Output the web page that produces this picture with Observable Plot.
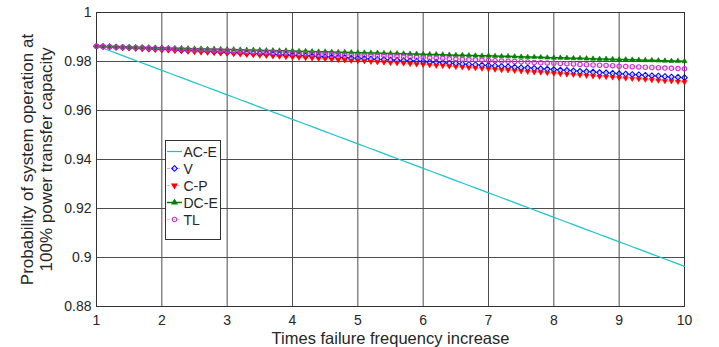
<!DOCTYPE html>
<html><head><meta charset="utf-8">
<script src="https://cdn.jsdelivr.net/npm/d3@7"></script>
<script src="https://cdn.jsdelivr.net/npm/@observablehq/plot@0.6"></script>
<style>
html,body{margin:0;padding:0;background:#fff;}
#chart{position:relative;width:719px;height:347px;}
</style></head><body><div id="chart"></div>
<script>
const xValues = [1.0,1.1,1.2,1.3,1.4,1.5,1.6,1.7,1.8,1.9,
2.0,2.1,2.2,2.3,2.4,2.5,2.6,2.7,2.8,2.9,
3.0,3.1,3.2,3.3,3.4,3.5,3.6,3.7,3.8,3.9,
4.0,4.1,4.2,4.3,4.4,4.5,4.6,4.7,4.8,4.9,
5.0,5.1,5.2,5.3,5.4,5.5,5.6,5.7,5.8,5.9,
6.0,6.1,6.2,6.3,6.4,6.5,6.6,6.7,6.8,6.9,
7.0,7.1,7.2,7.3,7.4,7.5,7.6,7.7,7.8,7.9,
8.0,8.1,8.2,8.3,8.4,8.5,8.6,8.7,8.8,8.9,
9.0,9.1,9.2,9.3,9.4,9.5,9.6,9.7,9.8,9.9,10.0];

const seriesNames = ["AC-E","V","C-P","DC-E","TL"];

const acE = [0.9864,0.9854,0.9844,0.9834,0.9824,0.9814,0.9804,0.9794,0.9784,0.9774,
0.9764,0.9754,0.9744,0.9734,0.9724,0.9714,0.9704,0.9694,0.9684,0.9674,
0.9664,0.9654,0.9644,0.9634,0.9624,0.9614,0.9604,0.9594,0.9584,0.9574,
0.9564,0.9554,0.9544,0.9534,0.9524,0.9514,0.9504,0.9494,0.9484,0.9474,
0.9464,0.9454,0.9444,0.9434,0.9424,0.9414,0.9404,0.9394,0.9384,0.9374,
0.9364,0.9354,0.9344,0.9334,0.9324,0.9314,0.9304,0.9294,0.9284,0.9274,
0.9264,0.9254,0.9244,0.9234,0.9224,0.9214,0.9204,0.9194,0.9184,0.9174,
0.9164,0.9154,0.9144,0.9134,0.9124,0.9114,0.9104,0.9094,0.9084,0.9074,
0.9064,0.9054,0.9044,0.9034,0.9024,0.9014,0.9004,0.8994,0.8984,0.8974,0.8964];

const vSeries = [0.9862,0.9861,0.9860,0.9858,0.9857,0.9856,0.9855,0.9854,0.9852,0.9851,0.9850,
0.9849,0.9848,0.9846,0.9845,0.9844,0.9843,0.9842,0.9840,0.9839,0.9838,
0.9837,0.9836,0.9834,0.9833,0.9832,0.9831,0.9830,0.9828,0.9827,0.9826,
0.9825,0.9823,0.9822,0.9821,0.9819,0.9818,0.9817,0.9816,0.9814,0.9813,
0.9812,0.9810,0.9809,0.9808,0.9806,0.9805,0.9804,0.9803,0.9801,0.9800,
0.9798,0.9797,0.9795,0.9793,0.9792,0.9790,0.9788,0.9787,0.9785,0.9784,
0.9782,0.9780,0.9779,0.9777,0.9775,0.9774,0.9772,0.9770,0.9769,0.9767,
0.9765,0.9764,0.9762,0.9760,0.9759,0.9757,0.9755,0.9754,0.9752,0.9750,
0.9749,0.9747,0.9746,0.9744,0.9742,0.9741,0.9739,0.9737,0.9736,0.9734];

const cpSeries = [0.9862,0.9861,0.9859,0.9858,0.9856,0.9855,0.9853,0.9852,0.9850,0.9849,0.9847,
0.9846,0.9844,0.9843,0.9841,0.9840,0.9838,0.9837,0.9836,0.9834,0.9833,
0.9831,0.9830,0.9828,0.9827,0.9825,0.9824,0.9822,0.9821,0.9819,0.9818,
0.9817,0.9815,0.9814,0.9812,0.9811,0.9809,0.9807,0.9806,0.9804,0.9803,
0.9802,0.9800,0.9798,0.9797,0.9795,0.9794,0.9793,0.9791,0.9789,0.9788,
0.9786,0.9784,0.9783,0.9781,0.9779,0.9777,0.9775,0.9774,0.9772,0.9770,
0.9768,0.9766,0.9765,0.9763,0.9761,0.9759,0.9757,0.9756,0.9754,0.9752,
0.9750,0.9748,0.9747,0.9745,0.9743,0.9741,0.9739,0.9738,0.9736,0.9734,
0.9732,0.9730,0.9729,0.9727,0.9725,0.9723,0.9721,0.9720,0.9718,0.9716];

const dcE = [0.9862,0.9861,0.9861,0.9860,0.9859,0.9859,0.9858,0.9858,0.9857,0.9856,0.9856,
0.9855,0.9854,0.9854,0.9853,0.9852,0.9852,0.9851,0.9851,0.9850,0.9849,
0.9849,0.9848,0.9847,0.9847,0.9846,0.9845,0.9845,0.9844,0.9844,0.9843,
0.9842,0.9842,0.9841,0.9840,0.9840,0.9839,0.9838,0.9838,0.9837,0.9836,
0.9836,0.9835,0.9835,0.9834,0.9833,0.9833,0.9832,0.9831,0.9831,0.9830,
0.9829,0.9829,0.9828,0.9827,0.9826,0.9826,0.9825,0.9824,0.9823,0.9823,
0.9822,0.9821,0.9821,0.9820,0.9819,0.9818,0.9818,0.9817,0.9816,0.9815,
0.9815,0.9814,0.9813,0.9813,0.9812,0.9811,0.9810,0.9810,0.9809,0.9808,
0.9808,0.9807,0.9806,0.9805,0.9805,0.9804,0.9803,0.9802,0.9802,0.9801];

const tlSeries = [0.9862,0.9861,0.9860,0.9859,0.9858,0.9857,0.9857,0.9856,0.9855,0.9854,0.9853,
0.9852,0.9851,0.9850,0.9849,0.9848,0.9848,0.9847,0.9846,0.9845,0.9844,
0.9843,0.9842,0.9841,0.9840,0.9839,0.9839,0.9838,0.9837,0.9836,0.9835,
0.9834,0.9833,0.9832,0.9831,0.9830,0.9829,0.9828,0.9827,0.9826,0.9825,
0.9825,0.9824,0.9823,0.9822,0.9821,0.9820,0.9819,0.9818,0.9817,0.9816,
0.9815,0.9814,0.9813,0.9811,0.9810,0.9809,0.9808,0.9807,0.9806,0.9804,
0.9803,0.9802,0.9801,0.9800,0.9799,0.9798,0.9796,0.9795,0.9794,0.9793,
0.9792,0.9791,0.9790,0.9788,0.9787,0.9786,0.9785,0.9784,0.9783,0.9781,
0.9780,0.9779,0.9778,0.9777,0.9776,0.9775,0.9773,0.9772,0.9771,0.9770];

const xTicks = [1,2,3,4,5,6,7,8,9,10];
const yTicks = [0.88,0.9,0.92,0.94,0.96,0.98,1];
const xLabel = "Times failure frequency increase";
const yLabel = "Probability of system operation at\n100% power transfer capacity";

const colors = {"AC-E":"#1cc4c8","V":"#0000ff","C-P":"#ff0000","DC-E":"#008000","TL":"#cc33cc"};
const rows = vals => xValues.map((x,i)=>({x, y: vals[i]}));

const font = "'Liberation Sans', Arial, Helvetica, sans-serif";

const svg = Plot.plot({
  width: 719, height: 347,
  marginLeft: 96, marginRight: 35, marginTop: 12, marginBottom: 41,
  style: {fontFamily: font, fontSize: "14px", color: "#262626", background: "white", overflow: "visible"},
  x: {domain: [1, 10], ticks: xTicks, tickFormat: d => String(d), tickSize: 0, tickPadding: 9, label: null},
  y: {domain: [0.88, 1], ticks: yTicks, tickFormat: d => String(+d.toFixed(2)), tickSize: 0, tickPadding: 5, label: null},
  marks: [
    Plot.gridX(xTicks, {stroke: "#4d4d4d", strokeOpacity: 1}),
    Plot.gridY(yTicks, {stroke: "#4d4d4d", strokeOpacity: 1}),
    Plot.frame({stroke: "#333"}),
    Plot.line(rows(acE), {x: "x", y: "y", stroke: colors["AC-E"], strokeWidth: 1.2}),
    Plot.line(rows(vSeries), {x: "x", y: "y", stroke: colors["V"], strokeOpacity: 0.3, strokeDasharray: "3,2"}),
    Plot.dot(rows(vSeries), {x: "x", y: "y", symbol: "diamond2", r: 2.5, stroke: colors["V"], fill: "none", strokeWidth: 1.1}),
    Plot.line(rows(cpSeries), {x: "x", y: "y", stroke: colors["C-P"], strokeOpacity: 0.3, strokeDasharray: "3,2"}),
    Plot.dot(rows(cpSeries), {x: "x", y: "y", symbol: "triangle", r: 1.9, rotate: 180, fill: colors["C-P"], stroke: colors["C-P"], strokeWidth: 0.6}),
    Plot.line(rows(dcE), {x: "x", y: "y", stroke: colors["DC-E"], strokeWidth: 1.5}),
    Plot.dot(rows(dcE), {x: "x", y: "y", symbol: "triangle", r: 1.9, fill: colors["DC-E"], stroke: colors["DC-E"], strokeWidth: 0.6}),
    Plot.line(rows(tlSeries), {x: "x", y: "y", stroke: colors["TL"], strokeOpacity: 0.3, strokeDasharray: "3,2"}),
    Plot.dot(rows(tlSeries), {x: "x", y: "y", symbol: "circle", r: 2.2, stroke: colors["TL"], fill: "none", strokeWidth: 1.1}),
    Plot.text([0], {frameAnchor: "bottom", dy: 37, lineAnchor: "bottom", text: () => xLabel, fontSize: 16.5, fill: "#262626"}),
    Plot.text([0], {frameAnchor: "left", dx: -60, rotate: -90, textAnchor: "middle", lineAnchor: "middle", text: () => yLabel, fontSize: 17, lineHeight: 1.08, fill: "#262626"})
  ]
});

// legend
const sel = d3.select(svg);
const lg = sel.append("g").attr("font-family", font).attr("font-size", 14).attr("text-anchor", "start");
lg.append("rect").attr("x", 165.5).attr("y", 140.5).attr("width", 55).attr("height", 99)
  .attr("fill", "white").attr("stroke", "#333").attr("stroke-width", 1);
const legendSpec = [
  {name: "AC-E", line: {stroke: colors["AC-E"], op: 1, dash: null, w: 1.2}, sym: null},
  {name: "V", line: {stroke: colors["V"], op: 0.3, dash: "3,2", w: 1}, sym: {type: d3.symbolDiamond2, r: 2.5, fill: "none", stroke: colors["V"], rot: 0}},
  {name: "C-P", line: {stroke: colors["C-P"], op: 0.3, dash: "3,2", w: 1}, sym: {type: d3.symbolTriangle, r: 1.9, fill: colors["C-P"], stroke: colors["C-P"], rot: 180}},
  {name: "DC-E", line: {stroke: colors["DC-E"], op: 1, dash: null, w: 1.5}, sym: {type: d3.symbolTriangle, r: 1.9, fill: colors["DC-E"], stroke: colors["DC-E"], rot: 0}},
  {name: "TL", line: {stroke: colors["TL"], op: 0.3, dash: "3,2", w: 1}, sym: {type: d3.symbolCircle, r: 2.2, fill: "none", stroke: colors["TL"], rot: 0}}
];
legendSpec.forEach((d, i) => {
  const y = 151.5 + i * 17;
  const g = lg.append("g");
  g.append("line").attr("x1", 167).attr("x2", 182).attr("y1", y).attr("y2", y)
    .attr("stroke", d.line.stroke).attr("stroke-opacity", d.line.op)
    .attr("stroke-width", d.line.w).attr("stroke-dasharray", d.line.dash);
  if (d.sym) {
    g.append("path").attr("d", d3.symbol().type(d.sym.type).size(Math.PI * d.sym.r * d.sym.r)())
      .attr("transform", `translate(174.5,${y}) rotate(${d.sym.rot})`)
      .attr("fill", d.sym.fill).attr("stroke", d.sym.stroke).attr("stroke-width", 1.1);
  }
  g.append("text").attr("x", 183.5).attr("y", y).attr("dy", "0.36em").attr("fill", "#262626").text(d.name);
});

document.getElementById("chart").appendChild(svg);
</script>
</body></html>
